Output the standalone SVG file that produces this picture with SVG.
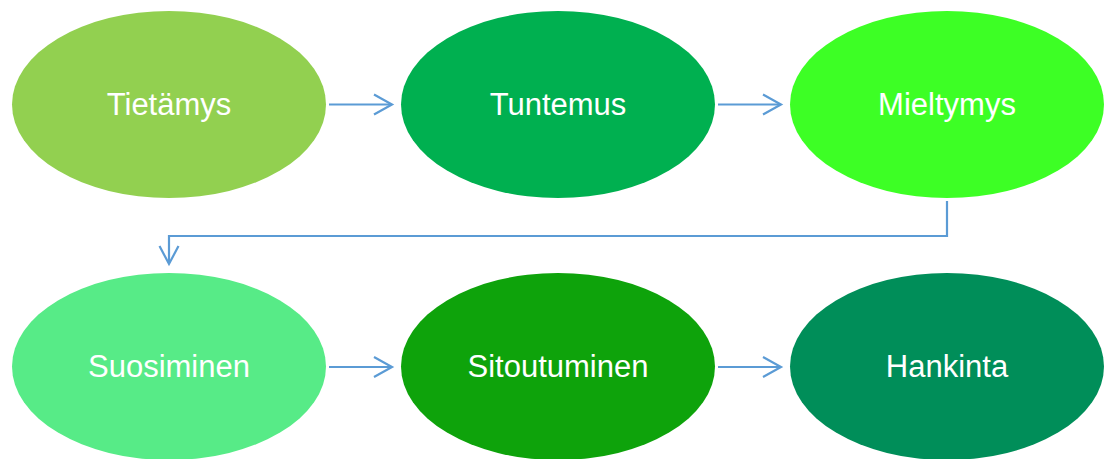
<svg xmlns="http://www.w3.org/2000/svg" width="1104" height="459" viewBox="0 0 1104 459">
  <style>
    .label { font-family: "Liberation Sans", Arial, sans-serif; font-size: 31px; fill: #ffffff; text-anchor: middle; }
    .conn { fill: none; stroke: #5b9bd5; stroke-width: 2.2; }
    .head { fill: none; stroke: #5b9bd5; stroke-width: 2.2; stroke-linejoin: miter; }
  </style>
  <rect width="1104" height="459" fill="#ffffff"/>

  <g id="node-tietamys">
    <ellipse cx="169" cy="104.5" rx="157" ry="93.5" fill="#92d050"/>
    <text class="label" x="169" y="115">Tietämys</text>
  </g>
  <g id="node-tuntemus">
    <ellipse cx="558" cy="104.5" rx="157" ry="93.5" fill="#00b050"/>
    <text class="label" x="558" y="115">Tuntemus</text>
  </g>
  <g id="node-mieltymys">
    <ellipse cx="947" cy="104.5" rx="157" ry="93.5" fill="#3dff25"/>
    <text class="label" x="947" y="115">Mieltymys</text>
  </g>
  <g id="node-suosiminen">
    <ellipse cx="169" cy="366.5" rx="157" ry="93.5" fill="#57eb87"/>
    <text class="label" x="169" y="377">Suosiminen</text>
  </g>
  <g id="node-sitoutuminen">
    <ellipse cx="558" cy="366.5" rx="157" ry="93.5" fill="#0ea30b"/>
    <text class="label" x="558" y="377">Sitoutuminen</text>
  </g>
  <g id="node-hankinta">
    <ellipse cx="947" cy="366.5" rx="157" ry="93.5" fill="#008e59"/>
    <text class="label" x="947" y="377">Hankinta</text>
  </g>

  <g id="connectors">
    <!-- top row -->
    <line class="conn" x1="329" y1="104.5" x2="391" y2="104.5"/>
    <polyline class="head" points="374,94.5 392,104.5 374,114.5"/>
    <line class="conn" x1="718" y1="104.5" x2="780" y2="104.5"/>
    <polyline class="head" points="763,94.5 781,104.5 763,114.5"/>
    <!-- elbow down to second row -->
    <polyline class="conn" points="947,201 947,236 169,236 169,263"/>
    <polyline class="head" points="159.5,246 169,264 178.5,246"/>
    <!-- bottom row -->
    <line class="conn" x1="329" y1="367" x2="391" y2="367"/>
    <polyline class="head" points="374,357 392,367 374,377"/>
    <line class="conn" x1="718" y1="367" x2="780" y2="367"/>
    <polyline class="head" points="763,357 781,367 763,377"/>
  </g>
</svg>
